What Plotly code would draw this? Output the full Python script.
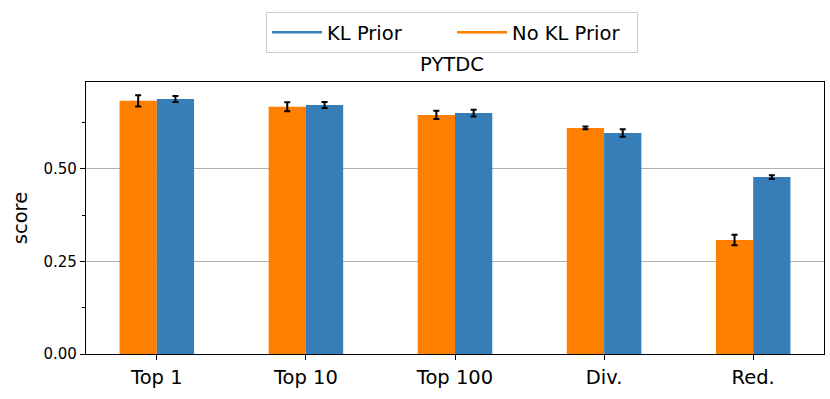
import plotly.graph_objects as go

categories = ['Top 1', 'Top 10', 'Top 100', 'Div.', 'Red.']
no_kl_scores = [0.684, 0.668, 0.646, 0.611, 0.308]
no_kl_err = [0.015, 0.012, 0.011, 0.004, 0.014]
kl_scores = [0.689, 0.673, 0.651, 0.597, 0.478]
kl_err = [0.008, 0.008, 0.009, 0.010, 0.005]

ORANGE = '#ff7f00'
BLUE = '#377eb8'
FONT = 'DejaVu Sans'

fig = go.Figure()

# bars (orange left, blue right), legend shown with line swatches below
fig.add_trace(go.Bar(
    x=categories, y=no_kl_scores, name='No KL Prior',
    marker=dict(color=ORANGE, line=dict(width=0)),
    error_y=dict(type='data', array=no_kl_err, color='black', thickness=2, width=3),
    showlegend=False,
))
fig.add_trace(go.Bar(
    x=categories, y=kl_scores, name='KL Prior',
    marker=dict(color=BLUE, line=dict(width=0)),
    error_y=dict(type='data', array=kl_err, color='black', thickness=2, width=3),
    showlegend=False,
))

# legend entries as lines
fig.add_trace(go.Scatter(x=[None], y=[None], mode='lines', name='KL Prior',
                         line=dict(color=BLUE, width=2.5)))
fig.add_trace(go.Scatter(x=[None], y=[None], mode='lines', name='No KL Prior',
                         line=dict(color=ORANGE, width=2.5)))

fig.update_layout(
    width=830, height=399,
    barmode='group', bargap=0.5, bargroupgap=0,
    plot_bgcolor='white', paper_bgcolor='white',
    font=dict(family=FONT, color='black'),
    margin=dict(l=86, r=6, t=82, b=45, autoexpand=False),
    title=dict(text='PYTDC', x=0.5446, xanchor='center', y=0.84, yanchor='middle',
               font=dict(size=19.5, family=FONT)),
    legend=dict(orientation='h', x=0.496, xanchor='center', y=1.257, yanchor='top',
                bordercolor='#cccccc', borderwidth=1,
                font=dict(size=19.5, family=FONT), itemwidth=50, entrywidth=120),
)

fig.update_xaxes(
    range=[-0.475, 4.475],
    showline=True, linecolor='black', linewidth=1.2, mirror=True,
    ticks='outside', ticklen=5, tickcolor='black',
    tickfont=dict(size=19.5, family=FONT),
    showgrid=False,
)
fig.update_yaxes(
    range=[0, 0.735],
    tickvals=[0, 0.25, 0.5], ticktext=['0.00', '0.25', '0.50'],
    showline=True, linecolor='black', linewidth=1.2, mirror=True,
    ticks='outside', ticklen=5, tickcolor='black',
    tickfont=dict(size=15, family=FONT),
    showgrid=True, gridcolor='#b0b0b0', gridwidth=1,
    zeroline=False,
    minor=dict(tickvals=[0.125, 0.375, 0.625], ticks='outside', ticklen=3,
               tickcolor='black', showgrid=False),
    title=dict(text='score', font=dict(size=19.5, family=FONT), standoff=10),
)

# drop the default page margin so the figure sits at the window's corner
fig.write_html('out.html', config={'displayModeBar': False},
               post_script="document.body.style.margin='0';")
